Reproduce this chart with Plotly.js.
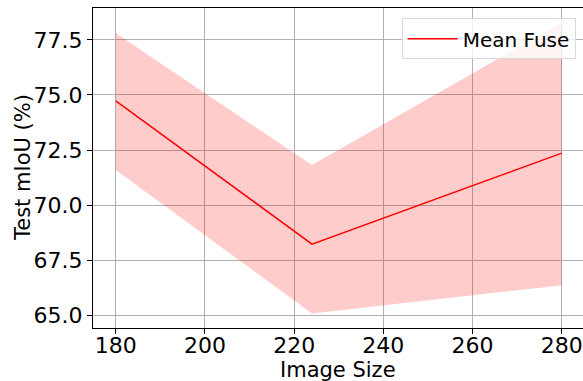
<!DOCTYPE html>
<html>
<head>
<meta charset="utf-8">
<script src="https://cdn.plot.ly/plotly-3.0.1.min.js"></script>
<style>html,body{margin:0;padding:0;background:#fff;}#chart{width:583px;height:381px;}</style>
</head>
<body>
<div id="chart"></div>
<script>
const imageSize = [180, 224, 280];
const meanFuse = [74.73, 68.23, 72.36];
const upperBound = [77.80, 71.82, 78.29];
const lowerBound = [71.59, 65.08, 66.36];
const xTicks = [180, 200, 220, 240, 260, 280];
const yTicks = [65.0, 67.5, 70.0, 72.5, 75.0, 77.5];
const yTickText = yTicks.map(v => v.toFixed(1));

const font = "DejaVu Sans, sans-serif";

const traces = [
  {x: imageSize, y: lowerBound, mode: 'lines', line: {width: 0, color: 'rgba(255,0,0,0)'}, showlegend: false, hoverinfo: 'skip'},
  {x: imageSize, y: upperBound, mode: 'lines', line: {width: 0, color: 'rgba(255,0,0,0)'}, fill: 'tonexty', fillcolor: 'rgba(255,0,0,0.2)', showlegend: false, hoverinfo: 'skip'},
  {x: imageSize, y: meanFuse, mode: 'lines', name: 'Mean Fuse', line: {color: '#ff0000', width: 1.5}}
];

const layout = {
  width: 583, height: 381,
  margin: {l: 93, r: 0, t: 8, b: 53, pad: 0},
  paper_bgcolor: '#fff', plot_bgcolor: '#fff',
  font: {family: font, color: '#000', size: 22},
  showlegend: true,
  legend: {
    x: 0.985, y: 0.968, xanchor: 'right', yanchor: 'top',
    bgcolor: 'rgba(255,255,255,0.8)', bordercolor: '#d9d9d9', borderwidth: 1,
    itemwidth: 50,
    font: {family: font, size: 20, color: '#000'}
  },
  xaxis: {
    range: [174.9, 284.77], tickvals: xTicks, ticktext: xTicks.map(String),
    showgrid: true, gridcolor: '#b0b0b0', gridwidth: 1,
    showline: true, linecolor: '#000', linewidth: 1, mirror: true,
    ticks: 'outside', ticklen: 5, tickcolor: '#000', tickwidth: 1,
    ticklabelstandoff: -7,
    tickfont: {family: font, size: 22, color: '#000'},
    zeroline: false, automargin: false
  },
  yaxis: {
    range: [64.42, 78.95], tickvals: yTicks, ticktext: yTickText,
    showgrid: true, gridcolor: '#b0b0b0', gridwidth: 1,
    showline: true, linecolor: '#000', linewidth: 1, mirror: true,
    ticks: 'outside', ticklen: 5, tickcolor: '#000', tickwidth: 1,
    tickfont: {family: font, size: 22, color: '#000'},
    zeroline: false, automargin: false
  },
  annotations: [
    {
      text: 'Test mIoU (%)', textangle: -90, xref: 'paper', yref: 'paper',
      x: 0, y: 0.5, xanchor: 'center', yanchor: 'middle', xshift: -70, showarrow: false,
      font: {family: font, size: 21, color: '#000'}
    },
    {
      text: 'Image Size', xref: 'paper', yref: 'paper', borderpad: 0,
      x: 0.5, y: 0, xanchor: 'center', yanchor: 'top', yshift: -29, showarrow: false,
      font: {family: font, size: 21, color: '#000'}
    }
  ]
};

Plotly.newPlot('chart', traces, layout, {staticPlot: true, displayModeBar: false});
</script>
</body>
</html>
